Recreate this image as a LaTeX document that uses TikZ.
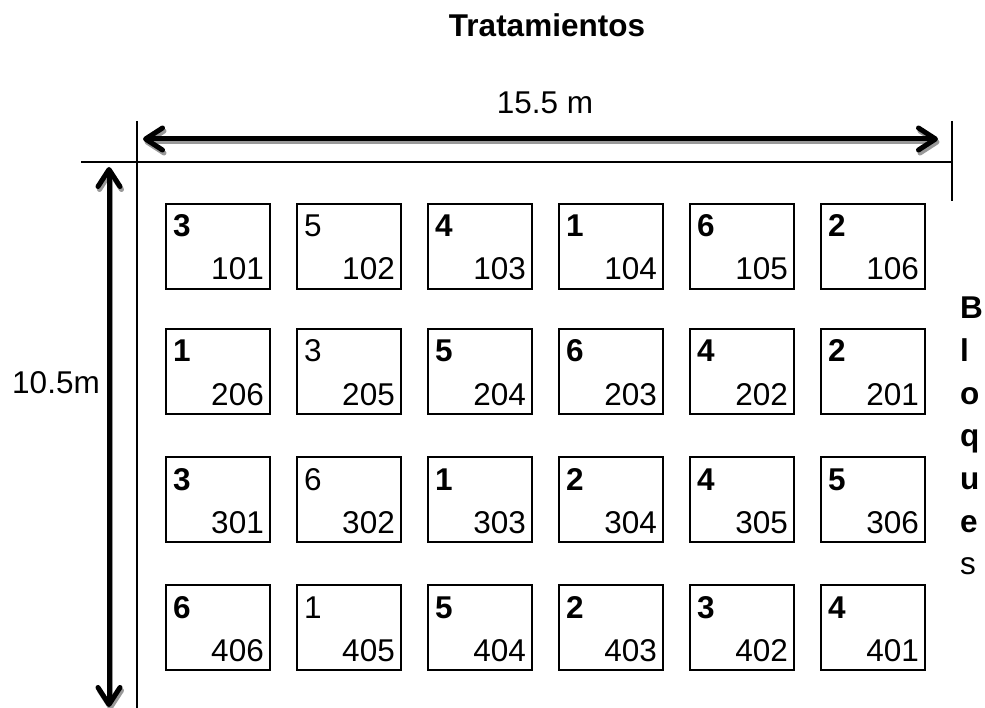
\documentclass[tikz,border=0pt]{standalone}
\usepackage{fontspec}
\setmainfont{Liberation Sans}
\usetikzlibrary{arrows.meta}
\begin{document}
\begin{tikzpicture}[x=1pt,y=-1pt,
  rule/.style={line width=2pt},
  plotbox/.style={draw, line width=2pt, minimum width=104pt, minimum height=85pt,
    inner sep=0pt, anchor=north west},
  lbl/.style={inner sep=0pt, font=\fontsize{31.5}{38}\selectfont},
  dimarrow/.style={line width=5pt, {Straight Barb[length=17pt,width=22pt,line cap=round,line join=round]}-{Straight Barb[length=17pt,width=22pt,line cap=round,line join=round]}},
  dimshadow/.style={dimarrow, draw=black!40}
]
\useasboundingbox (0,0) rectangle (985,708);

% title and dimension labels
\node[lbl, font=\fontsize{31.5}{38}\selectfont\bfseries, anchor=base] (title) at (547,37) {Tratamientos};
\node[lbl, anchor=base] (width) at (545,114) {15.5 m};
\node[lbl, anchor=base] (height) at (56,394) {10.5m};

% frame lines
\coordinate (hl) at (81,162);  \coordinate (hr) at (952,162);
\coordinate (vlt) at (137,121); \coordinate (vlb) at (137,708);
\coordinate (vrt) at (952,121); \coordinate (vrb) at (952,201);
\draw[rule] (hl) -- (hr);
\draw[rule] (vlt) -- (vlb);
\draw[rule] (vrt) -- (vrb);

% dimension arrows with drop shadow
\coordinate (aw) at (143,139); \coordinate (ae) at (938,139);
\coordinate (an) at (109,167); \coordinate (as) at (109,707);
\draw[dimshadow] ([shift={(1.5,3)}]aw) -- ([shift={(1.5,3)}]ae);
\draw[dimshadow] ([shift={(1.5,3)}]an) -- ([shift={(1.5,3)}]as);
\draw[dimarrow] (aw) -- (ae);
\draw[dimarrow] (an) -- (as);

% plots: treatment / plot number
\foreach \r/\yy/\row in {
  1/203/{3/101/\bfseries, 5/102/\mdseries, 4/103/\bfseries, 1/104/\bfseries, 6/105/\bfseries, 2/106/\bfseries},
  2/328/{1/206/\bfseries, 3/205/\mdseries, 5/204/\bfseries, 6/203/\bfseries, 4/202/\bfseries, 2/201/\bfseries},
  3/456/{3/301/\bfseries, 6/302/\mdseries, 1/303/\bfseries, 2/304/\bfseries, 4/305/\bfseries, 5/306/\bfseries},
  4/584/{6/406/\bfseries, 1/405/\mdseries, 5/404/\bfseries, 2/403/\bfseries, 3/402/\bfseries, 4/401/\bfseries}} {
  \foreach \t/\p/\w [count=\c from 0] in \row {
    \pgfmathsetmacro{\xx}{165+131*\c}
    \node[plotbox] (p\p) at (\xx,\yy) {};
    \node[lbl, anchor=base west, font=\fontsize{31.5}{38}\selectfont\w] (t\p) at ([shift={(8,34)}]p\p.north west) {\t};
    \node[lbl, anchor=base east] (n\p) at ([shift={(-7,77)}]p\p.north east) {\p};
  }
}

% vertical "Bloques" label
\foreach \ch/\w [count=\i from 0] in {B/\bfseries, l/\bfseries, o/\bfseries, q/\bfseries, u/\bfseries, e/\bfseries, s/\mdseries} {
  \node[lbl, anchor=base west, font=\fontsize{31.5}{38}\selectfont\w] (bl\i) at (960,319+42.6*\i) {\ch};
}
\end{tikzpicture}
\end{document}
